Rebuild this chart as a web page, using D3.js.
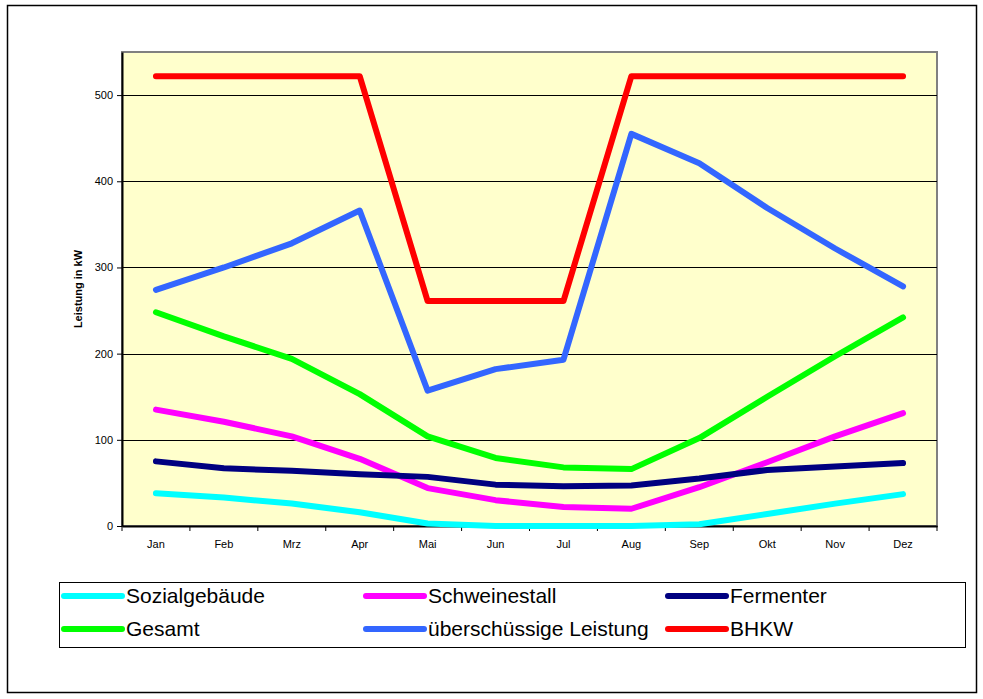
<!DOCTYPE html>
<html>
<head>
    <meta charset="utf-8" />
    <script src="https://d3js.org/d3.v7.min.js"></script>
    <style>
        body { margin: 0; background: #fff; }
        text { font-family: Arial, "Liberation Sans", sans-serif; }
    </style>
</head>
<body>
<div id="chart"></div>
<script>
    const months = ["Jan", "Feb", "Mrz", "Apr", "Mai", "Jun", "Jul", "Aug", "Sep", "Okt", "Nov", "Dez"];
    const yTicks = [0, 100, 200, 300, 400, 500];

    const sozialgebaeude = [38, 33, 26, 16, 3, 0, 0, 0, 2, 14, 26, 37];
    const schweinestall = [135, 121, 104, 78, 44, 30, 22, 20, 45, 74, 104, 131];
    const fermenter = [75, 67, 64, 60, 57, 48, 46, 47, 55, 65, 69, 73];
    const gesamt = [248, 220, 194, 153, 104, 79, 68, 66, 102, 150, 197, 242];
    const ueberschuss = [274, 300, 328, 366, 157, 182, 193, 455, 421, 369, 322, 278];
    const bhkw = [522, 522, 522, 522, 261, 261, 261, 522, 522, 522, 522, 522];

    const seriesNames = ["Sozialgebäude", "Schweinestall", "Fermenter", "Gesamt", "überschüssige Leistung", "BHKW"];
    const seriesColors = ["#00FFFF", "#FF00FF", "#000080", "#00FF00", "#3366FF", "#FF0000"];
    const seriesValues = [sozialgebaeude, schweinestall, fermenter, gesamt, ueberschuss, bhkw];
    // draw order: Excel draws in series order
    const series = seriesNames.map((n, i) => ({ name: n, color: seriesColors[i], values: seriesValues[i] }));

    const width = 983, height = 699;
    const plot = { left: 122, top: 52, right: 937, bottom: 526 };

    const svg = d3.select("#chart").append("svg")
        .attr("width", width)
        .attr("height", height);

    // outer frame
    svg.append("rect")
        .attr("x", 7.5).attr("y", 5.5)
        .attr("width", 969).attr("height", 687)
        .attr("fill", "#fff").attr("stroke", "#000").attr("stroke-width", 1.5);

    const x = d3.scaleBand().domain(months).range([plot.left, plot.right]);
    const y = d3.scaleLinear().domain([0, 550]).range([plot.bottom, plot.top]);

    // plot area
    svg.append("rect")
        .attr("x", plot.left).attr("y", plot.top)
        .attr("width", plot.right - plot.left).attr("height", plot.bottom - plot.top)
        .attr("fill", "#FFFFCC").attr("stroke", "#808080").attr("stroke-width", 2);

    // gridlines
    svg.append("g").selectAll("line")
        .data(yTicks.filter(d => d > 0))
        .enter().append("line")
        .attr("x1", plot.left).attr("x2", plot.right)
        .attr("y1", d => Math.round(y(d)) + 0.5).attr("y2", d => Math.round(y(d)) + 0.5)
        .attr("stroke", "#000").attr("stroke-width", 1);

    // y axis
    const yAxis = d3.axisLeft(y).tickValues(yTicks).tickSize(5).tickSizeOuter(0).tickPadding(4);
    const gy = svg.append("g")
        .attr("transform", `translate(${plot.left},0)`)
        .call(yAxis);
    gy.select(".domain").attr("stroke", "#000").attr("stroke-width", 2);
    gy.selectAll("text").style("font-size", "11px").attr("fill", "#000");

    // x axis with ticks at band boundaries
    const xAxis = d3.axisBottom(x).tickSize(0).tickPadding(14);
    const gx = svg.append("g")
        .attr("transform", `translate(0,${plot.bottom})`)
        .call(xAxis);
    gx.select(".domain").attr("stroke", "#000").attr("stroke-width", 2);
    gx.selectAll("text").style("font-size", "11px").attr("fill", "#000");
    gx.append("g").selectAll("line")
        .data(months.concat(["end"]))
        .enter().append("line")
        .attr("x1", (d, i) => i < months.length ? x(d) : plot.right)
        .attr("x2", (d, i) => i < months.length ? x(d) : plot.right)
        .attr("y1", 0).attr("y2", 5)
        .attr("stroke", "#000").attr("stroke-width", 1);

    // y label
    svg.append("text")
        .attr("transform", `translate(82, ${(plot.top + plot.bottom) / 2}) rotate(-90)`)
        .attr("text-anchor", "middle")
        .style("font-size", "11px")
        .style("font-weight", "bold")
        .text("Leistung in kW");

    // lines
    const line = d3.line()
        .x((d, i) => x(months[i]) + x.bandwidth() / 2)
        .y(d => y(d));

    svg.append("g").selectAll("path")
        .data(series)
        .enter().append("path")
        .attr("d", d => line(d.values))
        .attr("fill", "none")
        .attr("stroke", d => d.color)
        .attr("stroke-width", 6)
        .attr("stroke-linejoin", "round")
        .attr("stroke-linecap", "round");

    // legend
    svg.append("rect")
        .attr("x", 59.5).attr("y", 582.5)
        .attr("width", 906).attr("height", 65)
        .attr("fill", "#fff").attr("stroke", "#000").attr("stroke-width", 1);

    const colX = [64, 366, 668];
    const rowY = [596, 629];
    const legend = svg.append("g").selectAll("g")
        .data(series)
        .enter().append("g")
        .attr("transform", (d, i) => `translate(${colX[i % 3]},${rowY[Math.floor(i / 3)]})`);
    legend.append("line")
        .attr("x1", 0).attr("x2", 58)
        .attr("y1", 0).attr("y2", 0)
        .attr("stroke", d => d.color)
        .attr("stroke-width", 6)
        .attr("stroke-linecap", "round");
    legend.append("text")
        .attr("x", 62).attr("y", 7)
        .style("font-size", "21px")
        .text(d => d.name);
</script>
</body>
</html>
